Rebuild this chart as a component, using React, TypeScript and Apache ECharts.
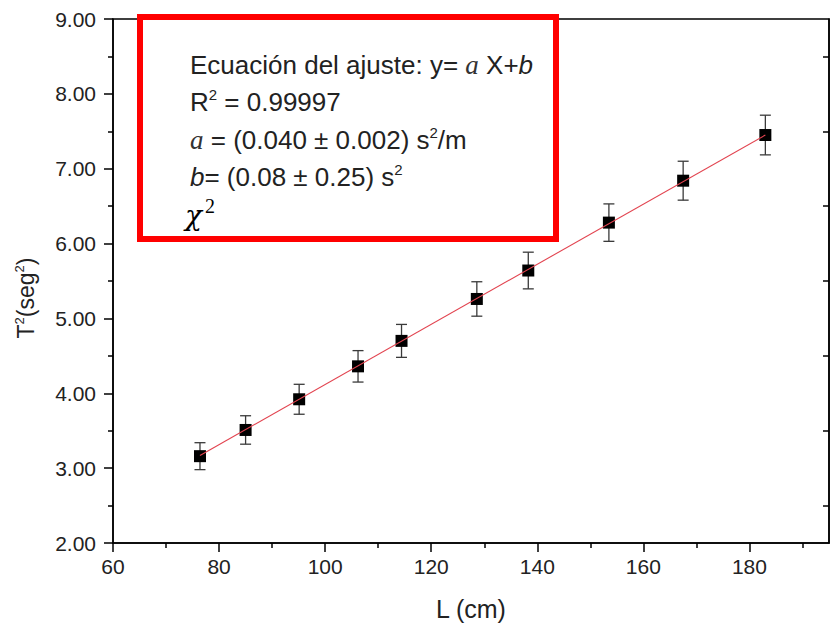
import React, { useEffect, useRef } from "react";
import * as echarts from "echarts";

// Data
const L_cm = [76.4, 85.0, 95.1, 106.2, 114.4, 128.6, 138.3, 153.5, 167.5, 183.0];
const T2_seg2 = [3.16, 3.51, 3.92, 4.36, 4.70, 5.26, 5.64, 6.28, 6.84, 7.45];
const T2_err = [0.18, 0.19, 0.20, 0.21, 0.22, 0.23, 0.245, 0.25, 0.26, 0.265];

// Fit line endpoints
const fitL = [76.4, 183.0];
const fitT2 = [3.17, 7.45];

// Axis ticks
const xMajorTicks = [60, 80, 100, 120, 140, 160, 180];
const xMinorTicks = [70, 90, 110, 130, 150, 170, 190];
const yRightTicks = [2.5, 3.5, 4.5, 5.5, 6.5, 7.5, 8.5];

const SANS = "Liberation Sans";
const SERIF = "Liberation Serif";
const TXT = "#222";

export default function App() {
  const ref = useRef<HTMLDivElement>(null);

  useEffect(() => {
    if (!ref.current) return;
    const chart = echarts.init(ref.current, undefined, { renderer: "svg" });

    const errData = L_cm.map((x, i) => [x, T2_seg2[i] - T2_err[i], T2_seg2[i] + T2_err[i]]);
    const pts = L_cm.map((x, i) => [x, T2_seg2[i]]);
    const fit = fitL.map((x, i) => [x, fitT2[i]]);

    const richMain = {
      n: { fontFamily: SANS, fontSize: 26, lineHeight: 30, fill: TXT },
      sup: { fontFamily: SANS, fontSize: 15, lineHeight: 16, verticalAlign: "top", fill: TXT },
      ia: { fontFamily: SERIF, fontStyle: "italic", fontSize: 27, lineHeight: 30, fill: "#333" },
      ib: { fontFamily: SANS, fontStyle: "italic", fontSize: 26, lineHeight: 30, fill: TXT },
    };

    const textLine = (y: number, text: string) => ({
      type: "text",
      x: 190,
      y,
      z: 101,
      style: {
        text,
        rich: richMain,
        fill: TXT,
        fontFamily: SANS,
        fontSize: 26,
        verticalAlign: "middle",
        align: "left",
      },
    });

    const option: any = {
      animation: false,
      backgroundColor: "#fff",
      grid: {
        left: 113,
        top: 19,
        right: 3,
        bottom: 79,
        show: true,
        borderColor: "#000",
        borderWidth: 1.5,
        backgroundColor: "transparent",
      },
      xAxis: [
        {
          type: "value",
          min: 60,
          max: 195,
          interval: 20,
          name: "L (cm)",
          nameLocation: "middle",
          nameGap: 53,
          nameTextStyle: { fontFamily: SANS, fontSize: 25, color: TXT },
          axisLine: { show: true, lineStyle: { color: "#000", width: 1.5 } },
          axisTick: { show: true, length: 9, customValues: xMajorTicks, lineStyle: { color: "#000", width: 1.5 } },
          axisLabel: {
            customValues: xMajorTicks,
            fontFamily: SANS,
            fontSize: 21,
            color: TXT,
            margin: 13,
          },
          splitLine: { show: false },
        },
        {
          type: "value",
          min: 60,
          max: 195,
          position: "bottom",
          axisLine: { show: false },
          axisTick: { show: true, length: 5, customValues: xMinorTicks, lineStyle: { color: "#000", width: 1.5 } },
          axisLabel: { show: false },
          splitLine: { show: false },
        },
      ],
      yAxis: [
        {
          type: "value",
          min: 2,
          max: 9,
          interval: 1,
          name: "{n|T}{sup|2}{n|(seg}{sup|2}{n|)}",
          nameLocation: "middle",
          nameGap: 74,
          nameTextStyle: {
            fontFamily: SANS,
            fontSize: 22,
            color: TXT,
            padding: [0, 34, 0, 0],
            rich: {
              n: { fontFamily: SANS, fontSize: 23, lineHeight: 26, color: TXT },
              sup: { fontFamily: SANS, fontSize: 13, lineHeight: 14, verticalAlign: "top", color: TXT },
            },
          },
          axisLine: { show: true, lineStyle: { color: "#000", width: 1.5 } },
          axisTick: { show: true, length: 9, lineStyle: { color: "#000", width: 1.5 } },
          minorTick: { show: true, splitNumber: 2, length: 5, lineStyle: { color: "#000", width: 1.5 } },
          axisLabel: {
            fontFamily: SANS,
            fontSize: 21,
            color: TXT,
            margin: 17,
            formatter: (v: number) => v.toFixed(2),
          },
          splitLine: { show: false },
        },
        {
          type: "value",
          min: 2,
          max: 9,
          position: "right",
          axisLine: { show: true, lineStyle: { color: "#000", width: 1.5 } },
          axisTick: { show: true, inside: true, length: 6, customValues: yRightTicks, lineStyle: { color: "#000", width: 1.5 } },
          axisLabel: { show: false },
          splitLine: { show: false },
        },
      ],
      series: [
        {
          type: "custom",
          name: "error",
          xAxisIndex: 0,
          yAxisIndex: 0,
          z: 2,
          data: errData,
          encode: { x: 0, y: [1, 2] },
          renderItem: (params: any, api: any) => {
            const x = api.value(0);
            const lo = api.coord([x, api.value(1)]);
            const hi = api.coord([x, api.value(2)]);
            const hw = 5.5;
            const st = { stroke: "#3a3a3a", lineWidth: 1.3 };
            return {
              type: "group",
              children: [
                { type: "line", shape: { x1: lo[0], y1: lo[1], x2: hi[0], y2: hi[1] }, style: st },
                { type: "line", shape: { x1: lo[0] - hw, y1: lo[1], x2: lo[0] + hw, y2: lo[1] }, style: st },
                { type: "line", shape: { x1: hi[0] - hw, y1: hi[1], x2: hi[0] + hw, y2: hi[1] }, style: st },
              ],
            };
          },
        },
        {
          type: "scatter",
          name: "T2",
          xAxisIndex: 0,
          yAxisIndex: 0,
          z: 3,
          symbol: "rect",
          symbolSize: 12,
          itemStyle: { color: "#000", opacity: 1 },
          data: pts,
        },
        {
          type: "line",
          name: "fit",
          xAxisIndex: 0,
          yAxisIndex: 0,
          z: 4,
          symbol: "none",
          lineStyle: { color: "#e2434f", width: 1.1 },
          data: fit,
        },
      ],
      graphic: [
        {
          type: "rect",
          z: 100,
          shape: { x: 140, y: 17, width: 416, height: 222 },
          style: { fill: "#fff", stroke: "#ff0000", lineWidth: 6 },
        },
        textLine(65, "{n|Ecuación del ajuste: y= }{ia|a}{n| X+}{ib|b}"),
        textLine(102, "{n|R}{sup|2}{n| = 0.99997}"),
        textLine(140, "{ia|a}{n| = (0.040 ± 0.002) s}{sup|2}{n|/m}"),
        textLine(177, "{ib|b}{n|= (0.08 ± 0.25) s}{sup|2}"),
        {
          type: "text",
          x: 185,
          y: 215,
          z: 101,
          style: {
            text: "χ",
            fontFamily: "DejaVu Serif",
            fontStyle: "italic",
            fontSize: 28,
            fill: "#000",
            verticalAlign: "middle",
            align: "left",
          },
        },
        {
          type: "text",
          x: 205,
          y: 206,
          z: 101,
          style: {
            text: "2",
            fontFamily: SERIF,
            fontSize: 20,
            fill: "#000",
            verticalAlign: "middle",
            align: "left",
          },
        },
      ],
    };

    chart.setOption(option);
    return () => chart.dispose();
  }, []);

  return (
    <div
      ref={ref}
      style={{ position: "fixed", left: 0, top: 0, width: 832, height: 626, background: "#fff" }}
    />
  );
}
